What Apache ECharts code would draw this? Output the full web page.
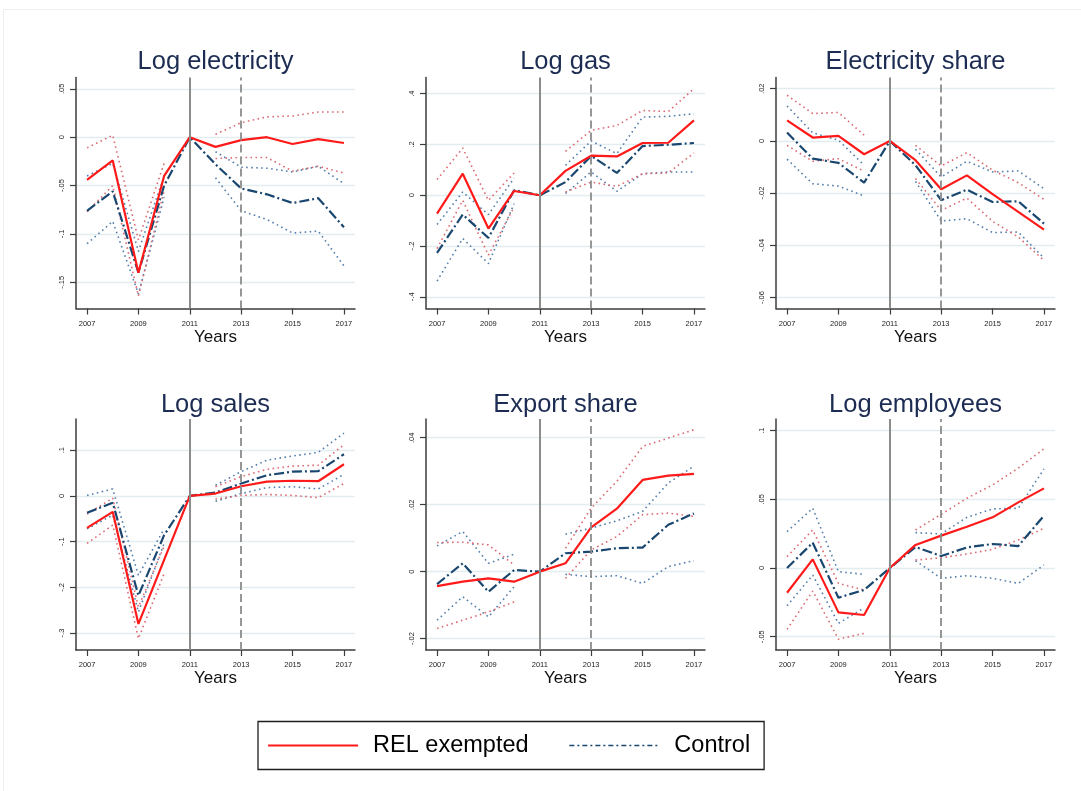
<!DOCTYPE html>
<html>
<head>
<meta charset="utf-8">
<script src="https://cdn.jsdelivr.net/npm/echarts@6/dist/echarts.min.js"></script>
<style>
  html, body { margin: 0; padding: 0; background: #fff; }
  #chart { width: 1081px; height: 791px; }
</style>
</head>
<body>
<div id="chart"></div>
<script>
// Event-study years and tick positions
const years = [2007, 2008, 2009, 2010, 2011, 2012, 2013, 2014, 2015, 2016, 2017];
const xTicks = [2007, 2009, 2011, 2013, 2015, 2017];
const panelTitles = ['Log electricity', 'Log gas', 'Electricity share', 'Log sales', 'Export share', 'Log employees'];
const legendNames = ['REL exempted', 'Control'];

// Log electricity
const elecRel   = [-0.044, -0.024, -0.140, -0.040, 0, -0.010, -0.003, 0.000, -0.007, -0.002, -0.006];
const elecRelHi = [-0.011, 0.002, -0.106, -0.027, null, 0.003, 0.015, 0.021, 0.022, 0.026, 0.026];
const elecRelLo = [-0.077, -0.050, -0.164, -0.055, null, -0.022, -0.021, -0.021, -0.035, -0.030, -0.037];
const elecCtl   = [-0.076, -0.056, -0.140, -0.050, 0, -0.028, -0.053, -0.059, -0.068, -0.063, -0.093];
const elecCtlHi = [-0.040, -0.027, -0.118, -0.040, null, -0.015, -0.031, -0.032, -0.036, -0.030, -0.048];
const elecCtlLo = [-0.110, -0.087, -0.162, -0.062, null, -0.042, -0.076, -0.085, -0.099, -0.097, -0.133];
const elecTicks = [0.05, 0, -0.05, -0.1, -0.15];

// Log gas
const gasRel   = [-0.072, 0.085, -0.131, 0.017, 0, 0.096, 0.156, 0.153, 0.206, 0.207, 0.295];
const gasRelHi = [0.062, 0.186, -0.020, 0.088, null, 0.173, 0.256, 0.275, 0.334, 0.330, 0.420];
const gasRelLo = [-0.210, -0.020, -0.236, -0.046, null, 0.013, 0.052, 0.035, 0.085, 0.088, 0.167];
const gasCtl   = [-0.227, -0.076, -0.168, 0.020, 0, 0.052, 0.155, 0.088, 0.194, 0.199, 0.206];
const gasCtlHi = [-0.115, 0.013, -0.076, 0.068, null, 0.118, 0.214, 0.164, 0.308, 0.311, 0.321];
const gasCtlLo = [-0.338, -0.170, -0.269, -0.033, null, 0.007, 0.092, 0.016, 0.085, 0.092, 0.092];
const gasTicks = [0.4, 0.2, 0, -0.2, -0.4];

// Electricity share
const shareRel   = [0.0079, 0.0013, 0.0019, -0.0051, 0, -0.0074, -0.0185, -0.0132, -0.0204, -0.0272, -0.0340];
const shareRelHi = [0.0175, 0.0105, 0.0109, 0.0022, null, -0.0017, -0.0096, -0.0045, -0.0112, -0.0160, -0.0224];
const shareRelLo = [-0.0017, -0.0078, -0.0068, -0.0116, null, -0.0144, -0.0266, -0.0219, -0.0308, -0.0368, -0.0458];
const shareCtl   = [0.0032, -0.0068, -0.0084, -0.0160, 0, -0.0093, -0.0227, -0.0187, -0.0234, -0.0231, -0.0317];
const shareCtlHi = [0.0134, 0.0031, 0.0003, -0.0093, null, -0.0032, -0.0138, -0.0078, -0.0119, -0.0115, -0.0183];
const shareCtlLo = [-0.0070, -0.0164, -0.0173, -0.0211, null, -0.0155, -0.0307, -0.0298, -0.0351, -0.0349, -0.0449];
const shareTicks = [0.02, 0, -0.02, -0.04, -0.06];

// Log sales
const salesRel   = [-0.070, -0.035, -0.280, -0.140, 0, 0.005, 0.021, 0.031, 0.033, 0.032, 0.069];
const salesRelHi = [-0.040, -0.005, -0.243, -0.110, null, 0.020, 0.042, 0.058, 0.065, 0.067, 0.112];
const salesRelLo = [-0.104, -0.064, -0.312, -0.170, null, -0.007, 0.001, 0.003, 0.001, -0.004, 0.027];
const salesCtl   = [-0.037, -0.015, -0.218, -0.086, 0, 0.007, 0.027, 0.045, 0.053, 0.054, 0.091];
const salesCtlHi = [0.001, 0.015, -0.174, -0.072, null, 0.023, 0.053, 0.078, 0.087, 0.095, 0.137];
const salesCtlLo = [-0.072, -0.042, -0.254, -0.104, null, -0.012, 0.005, 0.018, 0.020, 0.015, 0.047];
const salesTicks = [0.1, 0, -0.1, -0.2, -0.3];

// Export share
const expRel   = [-0.0043, -0.0030, -0.0020, -0.0030, 0, 0.0025, 0.0132, 0.0188, 0.0274, 0.0287, 0.0292];
const expRelHi = [0.0087, 0.0088, 0.0080, 0.0020, null, 0.0070, 0.0190, 0.0270, 0.0374, 0.0399, 0.0424];
const expRelLo = [-0.0170, -0.0145, -0.0120, -0.0090, null, -0.0020, 0.0065, 0.0105, 0.0170, 0.0175, 0.0165];
const expCtl   = [-0.0037, 0.0025, -0.0060, 0.0005, 0, 0.0055, 0.0060, 0.0070, 0.0072, 0.0140, 0.0174];
const expCtlHi = [0.0077, 0.0120, 0.0025, 0.0052, null, 0.0112, 0.0130, 0.0152, 0.0180, 0.0265, 0.0315];
const expCtlLo = [-0.0145, -0.0075, -0.0135, -0.0045, null, -0.0008, -0.0015, -0.0012, -0.0035, 0.0015, 0.0033];
const expTicks = [0.04, 0.02, 0, -0.02];

// Log employees
const empRel   = [-0.0180, 0.0063, -0.0323, -0.0342, 0, 0.0168, 0.0236, 0.0301, 0.0369, 0.0478, 0.0580];
const empRelHi = [0.0083, 0.0277, -0.0112, -0.0160, null, 0.0277, 0.0391, 0.0508, 0.0605, 0.0727, 0.0868];
const empRelLo = [-0.0447, -0.0168, -0.0518, -0.0476, null, 0.0058, 0.0075, 0.0102, 0.0136, 0.0204, 0.0289];
const empCtl   = [0.0000, 0.0184, -0.0216, -0.0160, 0, 0.0153, 0.0087, 0.0150, 0.0175, 0.0160, 0.0381];
const empCtlHi = [0.0265, 0.0435, -0.0027, -0.0046, null, 0.0258, 0.0248, 0.0369, 0.0430, 0.0435, 0.0721];
const empCtlLo = [-0.0275, -0.0051, -0.0403, -0.0290, null, 0.0053, -0.0075, -0.0056, -0.0075, -0.0112, 0.0022];
const empTicks = [0.1, 0.05, 0, -0.05];

// Reform year (solid) and implementation year (dashed)
const reformYear = 2011;
const implYear = 2013;

const panels = [
  { rel: elecRel,  relHi: elecRelHi,  relLo: elecRelLo,  ctl: elecCtl,  ctlHi: elecCtlHi,  ctlLo: elecCtlLo,  ticks: elecTicks,  range: [-0.177, 0.0617] },
  { rel: gasRel,   relHi: gasRelHi,   relLo: gasRelLo,   ctl: gasCtl,   ctlHi: gasCtlHi,   ctlLo: gasCtlLo,   ticks: gasTicks,   range: [-0.446, 0.464] },
  { rel: shareRel, relHi: shareRelHi, relLo: shareRelLo, ctl: shareCtl, ctlHi: shareCtlHi, ctlLo: shareCtlLo, ticks: shareTicks, range: [-0.0642, 0.0243] },
  { rel: salesRel, relHi: salesRelHi, relLo: salesRelLo, ctl: salesCtl, ctlHi: salesCtlHi, ctlLo: salesCtlLo, ticks: salesTicks, range: [-0.337, 0.168] },
  { rel: expRel,   relHi: expRelHi,   relLo: expRelLo,   ctl: expCtl,   ctlHi: expCtlHi,   ctlLo: expCtlLo,   ticks: expTicks,   range: [-0.0234, 0.0456] },
  { rel: empRel,   relHi: empRelHi,   relLo: empRelLo,   ctl: empCtl,   ctlHi: empCtlHi,   ctlLo: empCtlLo,   ticks: empTicks,   range: [-0.0597, 0.1085] }
];

// Layout of the 3x2 panel grid
const colLeft = [76, 426, 776];
const rowTop = [77.5, 419];
const plotW = 279;
const plotH = 231;
const titleTop = [48.5, 391.5];

const FONT = 'Liberation Sans, Arial, Helvetica, sans-serif';
const RED = '#ff1a1a';
const NAVY = '#1a476f';
const RED_CI = '#dc6b74';
const NAVY_CI = '#5580ad';
const AXIS = '#3c3c3c';
const REF = '#8c8c8c';

// Stata-style numeric labels: ".05", "-.1", "0"
function stataFmt(v) {
  const r = Math.round(v * 1e6) / 1e6;
  if (r === 0) return '0';
  return String(r).replace(/^(-?)0\./, '$1.');
}

function pairs(arr) {
  return years.map((y, k) => [y, arr[k]]);
}

const grids = [], xAxes = [], yAxes = [], titles = [], series = [];

panels.forEach((p, i) => {
  const col = i % 3, row = Math.floor(i / 3);
  grids.push({ left: colLeft[col], top: rowTop[row], width: plotW, height: plotH, containLabel: false });
  titles.push({
    text: panelTitles[i],
    left: colLeft[col] + plotW / 2,
    top: titleTop[row],
    textAlign: 'center',
    padding: 0,
    textStyle: { fontFamily: FONT, fontSize: 25.5, fontWeight: 'normal', color: '#1c2c52' }
  });
  xAxes.push({
    type: 'value',
    gridIndex: i,
    min: 2006.57,
    max: 2017.43,
    name: 'Years',
    nameLocation: 'middle',
    nameGap: 20,
    nameTextStyle: { fontFamily: FONT, fontSize: 17, color: '#111', verticalAlign: 'top' },
    axisLine: { show: true, onZero: false, lineStyle: { color: AXIS, width: 1.5 } },
    axisTick: { show: true, inside: false, length: 6, customValues: xTicks, lineStyle: { color: AXIS, width: 1.2 } },
    axisLabel: { show: true, customValues: xTicks, margin: 11, fontFamily: FONT, fontSize: 7.5, color: '#222', formatter: v => String(v) },
    splitLine: { show: false }
  });
  yAxes.push({
    type: 'value',
    gridIndex: i,
    min: p.range[0],
    max: p.range[1],
    axisLine: { show: true, onZero: false, lineStyle: { color: AXIS, width: 1.5 } },
    axisTick: { show: true, inside: false, length: 6, customValues: p.ticks, lineStyle: { color: AXIS, width: 1.2 } },
    axisLabel: { show: true, customValues: p.ticks, rotate: 90, margin: 10, fontFamily: FONT, fontSize: 7.5, color: '#222', formatter: stataFmt },
    splitLine: { show: true, lineStyle: { color: '#e3edf0', width: 1.3 } }
  });

  const ci = (data, color, withRefs) => {
    const s = {
      type: 'line', xAxisIndex: i, yAxisIndex: i, data: pairs(data),
      symbol: 'none', silent: true, connectNulls: false, z: 2,
      lineStyle: { color: color, width: 1.6, type: [1.6, 3.4] },
      emphasis: { disabled: true }
    };
    if (withRefs) {
      s.markLine = {
        silent: true, symbol: ['none', 'none'], label: { show: false }, animation: false,
        data: [
          { xAxis: reformYear, lineStyle: { color: REF, width: 2, type: 'solid' } },
          { xAxis: implYear, lineStyle: { color: REF, width: 1.8, type: [8, 4] } }
        ]
      };
    }
    return s;
  };
  series.push(ci(p.ctlHi, NAVY_CI, true));
  series.push(ci(p.ctlLo, NAVY_CI, false));
  series.push(ci(p.relHi, RED_CI, false));
  series.push(ci(p.relLo, RED_CI, false));
  series.push({
    name: legendNames[1], type: 'line', xAxisIndex: i, yAxisIndex: i, data: pairs(p.ctl),
    symbol: 'none', z: 3, color: NAVY,
    lineStyle: { color: NAVY, width: 2.2, type: [10, 3, 2, 3] },
    emphasis: { disabled: true }
  });
  series.push({
    name: legendNames[0], type: 'line', xAxisIndex: i, yAxisIndex: i, data: pairs(p.rel),
    symbol: 'none', z: 4, color: RED,
    lineStyle: { color: RED, width: 2.2 },
    emphasis: { disabled: true }
  });
});

const chart = echarts.init(document.getElementById('chart'), null, { renderer: 'canvas' });
chart.setOption({
  backgroundColor: '#ffffff',
  animation: false,
  title: titles,
  grid: grids,
  xAxis: xAxes,
  yAxis: yAxes,
  series: series,
  legend: {
    data: [
      { name: legendNames[0], itemStyle: { opacity: 0 }, lineStyle: { width: 2.2 } },
      { name: legendNames[1], itemStyle: { opacity: 0 }, lineStyle: { width: 1.6, type: [5, 3, 2, 3] } }
    ],
    left: 258,
    top: 721.5,
    orient: 'horizontal',
    padding: [12, 14, 12, 9],
    itemWidth: 90,
    itemHeight: 24,
    itemGap: 40,
    selectedMode: false,
    borderColor: '#1e1e1e',
    borderWidth: 1.3,
    borderRadius: 0,
    textStyle: { fontFamily: FONT, fontSize: 23.5, color: '#000', padding: [0, 0, 0, 10] }
  },
  graphic: [
    { type: 'rect', silent: true, z: -1, shape: { x: 3.5, y: 9.5, width: 1100, height: 800 }, style: { fill: 'none', stroke: '#eeeeee', lineWidth: 1 } }
  ]
});
</script>
</body>
</html>
